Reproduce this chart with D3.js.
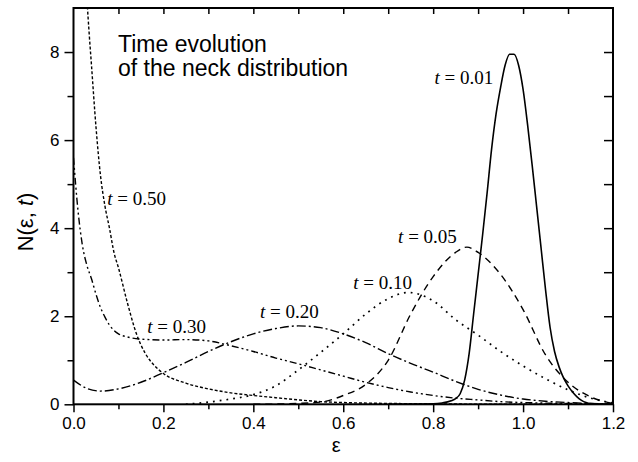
<!DOCTYPE html>
<html>
<head>
<meta charset="utf-8">
<script src="https://cdn.jsdelivr.net/npm/d3@7"></script>
<style>
  body { margin: 0; background: #fff; }
  .axis text { font-family: "Liberation Sans", Arial, sans-serif; font-size: 17px; fill: #000; }
  .axis line { stroke: #000; stroke-width: 1.5; }
  .axis path { display: none; }
</style>
</head>
<body>
<script>
// N(eps, t), [eps, N]
var t001 = [[0.70,0],[0.80,0.01],[0.82,0.03],[0.84,0.08],[0.85,0.13],[0.86,0.24],[0.87,0.55],[0.88,1.15],
  [0.89,2.05],[0.90,2.95],[0.91,3.85],[0.92,4.8],[0.93,5.8],[0.94,6.6],[0.95,7.2],[0.96,7.7],[0.97,7.95],
  [0.98,7.95],[0.99,7.7],[1.00,7.15],[1.01,6.35],[1.02,5.45],[1.03,4.5],[1.04,3.55],[1.05,2.6],
  [1.06,1.75],[1.07,1.2],[1.08,0.85],[1.09,0.6],[1.10,0.42],[1.11,0.28],[1.12,0.17],[1.13,0.09],
  [1.14,0.04],[1.15,0.015],[1.17,0.003],[1.20,0]];
var t005 = [[0.40,0],[0.50,0.02],[0.55,0.05],[0.60,0.2],[0.65,0.45],[0.70,1.0],[0.75,2.05],[0.80,2.9],
  [0.85,3.45],[0.875,3.57],[0.90,3.45],[0.95,2.95],[1.00,2.15],[1.05,1.12],[1.10,0.5],[1.15,0.17],[1.20,0.02]];
var t010 = [[0.25,0],[0.30,0.05],[0.35,0.12],[0.40,0.22],[0.45,0.42],[0.50,0.78],[0.55,1.18],[0.60,1.6],
  [0.65,2.05],[0.70,2.4],[0.745,2.54],[0.80,2.35],[0.85,1.92],[0.90,1.57],[0.95,1.2],[1.00,0.87],
  [1.05,0.58],[1.10,0.33],[1.15,0.14],[1.20,0.03]];
var t020 = [[0,0.55],[0.03,0.36],[0.06,0.3],[0.10,0.35],[0.15,0.5],[0.20,0.72],[0.25,0.95],[0.30,1.2],
  [0.35,1.42],[0.40,1.6],[0.45,1.72],[0.50,1.78],[0.55,1.74],[0.60,1.6],[0.65,1.4],[0.70,1.15],
  [0.75,0.93],[0.80,0.73],[0.85,0.52],[0.90,0.34],[0.95,0.21],[1.00,0.12],[1.05,0.07],[1.10,0.04],
  [1.15,0.02],[1.20,0.01]];
var t030 = [[0,5.6],[0.01,4.4],[0.02,3.6],[0.03,3.15],[0.04,2.85],[0.05,2.5],[0.06,2.2],[0.07,1.98],
  [0.08,1.8],[0.09,1.68],[0.10,1.6],[0.12,1.53],[0.15,1.48],[0.20,1.46],[0.25,1.47],[0.30,1.44],
  [0.35,1.33],[0.40,1.2],[0.45,1.05],[0.50,0.92],[0.55,0.78],[0.60,0.64],[0.65,0.5],[0.70,0.38],
  [0.75,0.28],[0.80,0.2],[0.85,0.14],[0.90,0.1],[0.95,0.06],[1.00,0.04],[1.10,0.02],[1.20,0.01]];
var t050 = [[0.028,9.6],[0.03,9.2],[0.035,8.4],[0.04,7.7],[0.05,6.3],[0.06,5.2],[0.07,4.5],[0.08,4.0],
  [0.09,3.45],[0.10,3.1],[0.12,2.3],[0.14,1.6],[0.16,1.15],[0.18,0.88],[0.20,0.7],[0.25,0.48],
  [0.30,0.35],[0.35,0.26],[0.40,0.2],[0.45,0.15],[0.50,0.1],[0.55,0.06],[0.60,0.04],[0.70,0.02],
  [0.80,0.01],[1.00,0],[1.20,0]];

var series = [t001, t005, t010, t020, t030, t050];
var dashes = ["none", "7,5", "1.8,5", "9,3,2,3", "7,3,2,3,2,3", "3,2"];
var labels = ["0.01", "0.05", "0.10", "0.20", "0.30", "0.50"];
// label anchor in data units [eps, N] (left edge, baseline)
var labelPos = [[0.803, 7.28], [0.722, 3.66], [0.622, 2.61], [0.415, 1.96], [0.164, 1.63], [0.075, 4.52]];

var xTicks = [0, 0.2, 0.4, 0.6, 0.8, 1.0, 1.2];
var xMinor = [0.1, 0.3, 0.5, 0.7, 0.9, 1.1];
var yTicks = [0, 2, 4, 6, 8];
var yMinor = [1, 3, 5, 7];

var W = 638, H = 462;
var x = d3.scaleLinear().domain([0, 1.2]).range([73.5, 613]);
var y = d3.scaleLinear().domain([0, 9]).range([404.3, 8]);

var svg = d3.select("body").append("svg")
    .attr("width", W)
    .attr("height", H);

svg.append("clipPath").attr("id", "plot")
  .append("rect")
    .attr("x", x(0)).attr("y", y(9))
    .attr("width", x(1.2) - x(0)).attr("height", y(0) - y(9));

var line = d3.line()
    .x(function(d) { return x(d[0]); })
    .y(function(d) { return y(d[1]); })
    .curve(d3.curveMonotoneX);

svg.append("g").attr("clip-path", "url(#plot)")
  .selectAll("path")
    .data(series)
  .enter().append("path")
    .attr("d", line)
    .attr("fill", "none")
    .attr("stroke", "#000")
    .attr("stroke-width", function(d, i) { return i == 0 ? 1.6 : (i == 2 ? 1.7 : 1.4); })
    .attr("stroke-dasharray", function(d, i) { return dashes[i]; });

// axes
svg.append("g").attr("class", "axis")
    .attr("transform", "translate(0," + y(0) + ")")
    .call(d3.axisBottom(x).tickValues(xTicks).tickSize(8).tickPadding(5).tickFormat(d3.format(".1f")));
svg.append("g").attr("class", "axis")
    .attr("transform", "translate(0," + y(0) + ")")
    .call(d3.axisBottom(x).tickValues(xMinor).tickSize(5).tickFormat(""));
svg.append("g").attr("class", "axis")
    .attr("transform", "translate(" + x(0) + ",0)")
    .call(d3.axisLeft(y).tickValues(yTicks).tickSize(9).tickPadding(5).tickFormat(d3.format("d")));
svg.append("g").attr("class", "axis")
    .attr("transform", "translate(" + x(0) + ",0)")
    .call(d3.axisLeft(y).tickValues(yMinor).tickSize(6).tickFormat(""));
svg.append("g").attr("class", "axis")
    .attr("transform", "translate(0," + y(9) + ")")
    .call(d3.axisTop(x).tickValues(xMinor.concat([0.2, 0.4, 0.6, 0.8, 1.0])).tickSize(-6).tickFormat(""));
svg.append("g").attr("class", "axis")
    .attr("transform", "translate(" + x(1.2) + ",0)")
    .call(d3.axisRight(y).tickValues([1, 2, 3, 4, 5, 6, 7, 8]).tickSize(-9).tickFormat(""));

svg.append("rect")
    .attr("x", x(0)).attr("y", y(9))
    .attr("width", x(1.2) - x(0)).attr("height", y(0) - y(9))
    .attr("fill", "none")
    .attr("stroke", "#000")
    .attr("stroke-width", 2);

// curve labels
var lab = svg.selectAll("text.lab")
    .data(labels)
  .enter().append("text")
    .attr("class", "lab")
    .attr("x", function(d, i) { return x(labelPos[i][0]); })
    .attr("y", function(d, i) { return y(labelPos[i][1]); })
    .style("font-family", "'Liberation Serif', 'Times New Roman', serif")
    .style("font-size", "19px");
lab.append("tspan").style("font-style", "italic").text("t");
lab.append("tspan").text(function(d) { return " = " + d; });

// title
var title = svg.append("text")
    .attr("x", 118)
    .style("font-family", "'Liberation Sans', Arial, sans-serif")
    .style("font-size", "23px");
title.append("tspan").attr("x", 118).attr("y", 52).text("Time evolution");
title.append("tspan").attr("x", 118).attr("y", 76).text("of the neck distribution");

// axis titles
svg.append("text")
    .attr("x", (x(0) + x(1.2)) / 2 - 7)
    .attr("y", 452)
    .attr("text-anchor", "middle")
    .style("font-family", "'Liberation Sans', Arial, sans-serif")
    .style("font-size", "20px")
    .text("ε");

var ylab = svg.append("text")
    .attr("transform", "translate(33," + 222 + ") rotate(-90)")
    .attr("text-anchor", "middle")
    .style("font-family", "'Liberation Sans', Arial, sans-serif")
    .style("font-size", "22px");
ylab.append("tspan").text("N(ε, ");
ylab.append("tspan").style("font-style", "italic").text("t");
ylab.append("tspan").text(")");
</script>
</body>
</html>
